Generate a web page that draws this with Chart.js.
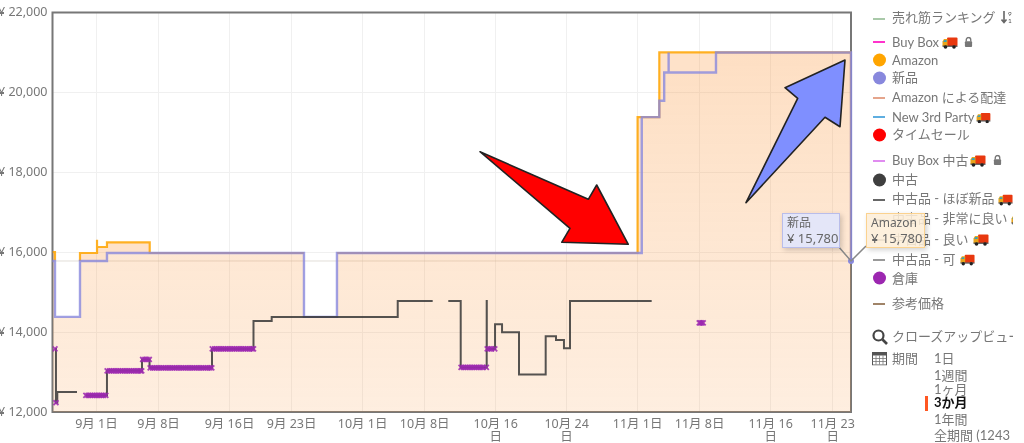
<!DOCTYPE html>
<html lang="ja">
<head>
<meta charset="utf-8">
<title>価格推移</title>
<script src="https://cdn.jsdelivr.net/npm/chart.js@4"></script>
<style>
html, body { margin: 0; padding: 0; background: #fff; overflow: hidden; }
body { width: 1024px; height: 443px; position: relative; font-family: Lato, "Noto Sans CJK JP", sans-serif; font-size: 13px; color: #777; }
canvas { position: absolute; left: 0; top: 0; }
#arrows { position: absolute; left: 0; top: 0; }
#panel { position: absolute; left: 0; top: 0; width: 1013px; height: 443px; overflow: hidden; }
.t { position: absolute; white-space: nowrap; line-height: 16px; transform: translateY(-8px); }
.dash { position: absolute; left: 873px; width: 12px; height: 2px; }
.dot { position: absolute; left: 872.5px; width: 13px; height: 13px; border-radius: 50%; transform: translateY(-6.5px); }
.ic { position: absolute; transform: translateY(-50%); }
.tip { position: absolute; top: 213px; height: 33px; box-sizing: content-box; box-shadow: 2px 2px 5px rgba(0,0,0,.18); color: #666; font-family: "Noto Sans", "Noto Sans CJK JP", sans-serif; }
.tip b { position: absolute; left: 4px; top: 1px; font-weight: normal; font-size: 12px; line-height: 16px; }
.tip i { position: absolute; left: 4px; top: 15px; font-style: normal; font-size: 13px; line-height: 18px; white-space: nowrap; }
</style>
</head>
<body>
<canvas id="chart" width="1024" height="443"></canvas>
<svg width="0" height="0" style="position:absolute">
  <symbol id="truck" viewBox="0 0 16 12">
    <rect x="5" y="0.5" width="10.5" height="8.5" rx="1" fill="#e8380f"/>
    <path d="M0.5 9 V4.5 L2 2 H5.5 V9 Z" fill="#e8a41c"/>
    <path d="M1.2 5 L2.4 3 H4.6 V5 Z" fill="#3aa0b8"/>
    <rect x="0.5" y="8.6" width="15" height="1.2" fill="#444"/>
    <circle cx="3.5" cy="10" r="1.8" fill="#222"/><circle cx="12" cy="10" r="1.8" fill="#222"/>
  </symbol>
  <symbol id="lock" viewBox="0 0 10 12">
    <path d="M2.5 5.5 V3.5 a2.5 2.5 0 0 1 5 0 V5.5" fill="none" stroke="#777" stroke-width="1.5"/>
    <rect x="1" y="5.2" width="8" height="6.3" rx="1" fill="#777"/>
  </symbol>
</svg>
<div id="panel">
  <div class="dash" style="top:18px;background:#a9c9a9"></div><div class="t" style="left:892px;top:17px">売れ筋ランキング</div>
  <svg class="ic" style="left:1001px;top:17px" width="12" height="14" viewBox="0 0 12 14"><path d="M3 1 V12 M0.5 9.5 L3 12.5 L5.5 9.5" fill="none" stroke="#666" stroke-width="1.6"/><text x="7" y="6" font-size="6.5" fill="#555">9</text><text x="7" y="13" font-size="6.5" fill="#555">1</text></svg>

  <div class="dash" style="top:41px;background:#ff33cc"></div><div class="t" style="left:892px;top:42px">Buy Box</div>
  <svg class="ic" style="left:942px;top:43px" width="16" height="12"><use href="#truck"/></svg><svg class="ic" style="left:964px;top:42px" width="9" height="11"><use href="#lock"/></svg>
  <div class="dot" style="top:60px;background:#ffa500"></div><div class="t" style="left:892px;top:60px">Amazon</div>
  <div class="dot" style="top:78px;background:#8888dd"></div><div class="t" style="left:892px;top:77px">新品</div>
  <div class="dash" style="top:97px;background:#e5a58c"></div><div class="t" style="left:892px;top:97px">Amazon による配達</div>
  <div class="dash" style="top:116px;background:#5eaee0"></div><div class="t" style="left:892px;top:117px">New 3rd Party</div>
  <svg class="ic" style="left:976px;top:118px" width="15" height="11"><use href="#truck"/></svg>
  <div class="dot" style="top:135px;background:#ff0000"></div><div class="t" style="left:892px;top:134px">タイムセール</div>

  <div class="dash" style="top:160px;background:#e08cf0"></div><div class="t" style="left:892px;top:160px">Buy Box 中古</div>
  <svg class="ic" style="left:970px;top:161px" width="16" height="12"><use href="#truck"/></svg><svg class="ic" style="left:993px;top:160px" width="9" height="11"><use href="#lock"/></svg>
  <div class="dot" style="top:180px;background:#3f3f3f"></div><div class="t" style="left:892px;top:179px">中古</div>
  <div class="dash" style="top:199px;background:#666"></div><div class="t" style="left:892px;top:198px">中古品 - ほぼ新品</div>
  <svg class="ic" style="left:998px;top:200px" width="15" height="12"><use href="#truck"/></svg>
  <div class="dash" style="top:219px;background:#888"></div><div class="t" style="left:892px;top:218px">中古品 - 非常に良い</div>
  <svg class="ic" style="left:1011px;top:220px" width="15" height="12"><use href="#truck"/></svg>
  <div class="dash" style="top:239px;background:#888"></div><div class="t" style="left:892px;top:239px">中古品 - 良い</div>
  <svg class="ic" style="left:973px;top:240px" width="16" height="12"><use href="#truck"/></svg>
  <div class="dash" style="top:259px;background:#999"></div><div class="t" style="left:892px;top:259px">中古品 - 可</div>
  <svg class="ic" style="left:960px;top:260px" width="15" height="12"><use href="#truck"/></svg>
  <div class="dot" style="top:278px;background:#9c27b0"></div><div class="t" style="left:892px;top:278px">倉庫</div>
  <div class="dash" style="top:303px;background:#a08468"></div><div class="t" style="left:892px;top:303px">参考価格</div>

  <svg class="ic" style="left:872px;top:337px" width="16" height="16" viewBox="0 0 16 16"><circle cx="6.5" cy="6.5" r="5" fill="none" stroke="#444" stroke-width="2.2"/><path d="M10.5 10.5 L15 15" stroke="#444" stroke-width="2.6"/></svg>
  <div class="t" style="left:892px;top:336px">クローズアップビュー</div>
  <svg class="ic" style="left:872px;top:358px" width="15" height="15" viewBox="0 0 15 15"><rect x="0.5" y="2" width="14" height="12.5" fill="none" stroke="#555"/><rect x="0.5" y="2" width="14" height="3" fill="#555"/><path d="M0.5 8 H14.5 M0.5 11 H14.5 M4 5 V14 M7.5 5 V14 M11 5 V14" stroke="#777" stroke-width="0.8"/></svg>
  <div class="t" style="left:892px;top:358px">期間</div>
  <div class="t" style="left:934px;top:358px">1日</div>
  <div class="t" style="left:934px;top:375px">1週間</div>
  <div class="t" style="left:934px;top:389px">1ヶ月</div>
  <div style="position:absolute;left:925px;top:396px;width:3px;height:15px;background:#ff5722"></div>
  <div class="t" style="left:934px;top:402px;color:#111;font-weight:bold">3か月</div>
  <div class="t" style="left:934px;top:419px">1年間</div>
  <div class="t" style="left:934px;top:435px">全期間 (1243 <span style="color:#ff9e6e">|</span></div>
</div>
<svg id="arrows" width="1024" height="443">
  <polygon points="480,151.7 588.3,199.3 596.7,185 628.3,244.3 561.7,242.3 570,228.3" fill="#ff0000" stroke="#222" stroke-width="1.6" stroke-linejoin="round"/>
  <polygon points="746,202.7 797.7,98.3 785,87.7 845,60 840,126.7 825,117.3" fill="#7f8fff" stroke="#222" stroke-width="1.6" stroke-linejoin="round"/>
  <path d="M838 246 L851 261 L866 246" fill="none" stroke="#888" stroke-width="1.5"/>
</svg>
<div class="tip" style="left:782px;width:56px;background:#e4e6f8;border:1px solid #b9bdea"><b>新品</b><i>¥ 15,780</i></div>
<div class="tip" style="left:866px;width:57px;background:rgba(253,238,216,.88);border:1px solid #fbd28f"><b>Amazon</b><i>¥ 15,780</i></div>

<script>
// days are counted from 9月 1日 = 0
var dayMin = -4.96;
var dayMax = 85.06;
var priceTicks = [12000, 14000, 16000, 18000, 20000, 22000];
var tickDays = [0, 7, 15, 22, 30, 37, 45, 53, 61, 68, 76, 83];
var tickLabels = ["9月 1日", "9月 8日", "9月 16日", "9月 23日", "10月 1日", "10月 8日", ["10月 16", "日"], ["10月 24", "日"], "11月 1日", "11月 8日", ["11月 16", "日"], ["11月 23", "日"]];

var newDays   = [-4.96, -4.68, -1.86, 1.18, 23.39, 27.11, 61.47, 63.45, 64.0, 64.5, 64.5, 69.84, 85.06, 85.06];
var newValues = [15780, 14380, 15780, 15980, 14380, 15980, 19380, 19790, 20500, 21000, 20500, 21000, 21000, 15780];

var amazonDays   = [-4.96, -4.68, -4.6, -1.86, -1.86, 0.06, 0.06, 1.18, 6.0, 23.39, 23.4, 27.11, 61.0, 63.45, 85.06, 85.06];
var amazonValues = [16000, 15800, null, 15780, 15980, 16310, 16130, 16245, 15980, 15980, null, 15980, 19380, 21000, 21000, 15780];

var usedDays   = [-4.68, -4.57, -4.42, -2.2, -2.19, -1.24, 1.18, 5.13, 5.98, 13.02, 17.7, 19.75, 33.96, 37.9, 37.95, 39.66, 41.06, 43.99, 44.0, 44.93, 45.72, 47.63, 50.64, 51.8, 52.7, 53.38, 62.59];
var usedValues = [13580, 12232, 12500, 12500, null, 12415, 13030, 13315, 13106, 13580, 14280, 14380, 14780, 14780, null, 14780, 13116, 14780, 13580, 14197, 13998, 12940, 13897, 13805, 13598, 14780, 14780];

// one list of days per warehouse price
var warehouseValues = [13580, 12232, 12415, 13030, 13315, 13106, 13580, 13116, 13580, 14230];
var warehouseDays = [
  [-4.68],
  [-4.57],
  [-1.2, -0.95, -0.7, -0.45, -0.2, 0.05, 0.3, 0.55, 0.8, 1.05],
  [1.2, 1.45, 1.7, 1.95, 2.2, 2.45, 2.7, 2.95, 3.2, 3.45, 3.7, 3.95, 4.2, 4.45, 4.7, 4.95, 5.1],
  [5.2, 5.45, 5.7, 5.95],
  [6.05, 6.3, 6.55, 6.8, 7.05, 7.3, 7.55, 7.8, 8.05, 8.3, 8.55, 8.8, 9.05, 9.3, 9.55, 9.8, 10.05, 10.3, 10.55, 10.8, 11.05, 11.3, 11.55, 11.8, 12.05, 12.3, 12.55, 12.8, 13.0],
  [13.05, 13.3, 13.55, 13.8, 14.05, 14.3, 14.55, 14.8, 15.05, 15.3, 15.55, 15.8, 16.05, 16.3, 16.55, 16.8, 17.05, 17.3, 17.55, 17.7],
  [41.1, 41.35, 41.6, 41.85, 42.1, 42.35, 42.6, 42.85, 43.1, 43.35, 43.6, 43.95],
  [44.05, 44.3, 44.55, 44.9],
  [67.95, 68.1, 68.25, 68.4]
];

var crosshairDays = [-4.96, 85.06];
var crosshairValues = [15780, 15780];

function points(days, values) {
  return days.map(function(d, i) { return { x: d, y: values[i] }; });
}

function warehousePoints() {
  var out = [];
  warehouseDays.forEach(function(list, i) {
    list.forEach(function(d) { out.push({ x: d, y: warehouseValues[i] }); });
  });
  return out;
}

function fillGradient(ctx) {
  var area = ctx.chart.chartArea;
  if (!area) return "rgba(250,150,60,.2)";
  var g = ctx.chart.ctx.createLinearGradient(0, area.top, 0, area.bottom);
  g.addColorStop(0, "rgba(250,150,60,.32)");
  g.addColorStop(1, "rgba(250,150,60,.16)");
  return g;
}

var plotBorder = {
  id: "plotBorder",
  beforeDatasetsDraw: function(chart) {
    var a = chart.chartArea, c = chart.ctx;
    c.save();
    c.strokeStyle = "#777";
    c.lineWidth = 2;
    c.strokeRect(a.left, a.top, a.right - a.left, a.bottom - a.top);
    c.restore();
  }
};

new Chart(document.getElementById("chart"), {
  type: "line",
  plugins: [plotBorder],
  data: {
    datasets: [
      {
        label: "倉庫",
        data: warehousePoints(),
        showLine: false,
        pointStyle: "crossRot",
        pointRadius: 3.5,
        pointBorderWidth: 1.8,
        pointBorderColor: "rgba(156,39,176,.85)"
      },
      {
        label: "中古",
        data: points(usedDays, usedValues),
        stepped: true,
        borderColor: "rgba(55,55,55,.85)",
        borderWidth: 2,
        pointRadius: 0
      },
      {
        label: "新品",
        data: points(newDays, newValues),
        stepped: true,
        borderColor: "rgba(136,136,221,.8)",
        borderWidth: 2.4,
        fill: "origin",
        backgroundColor: fillGradient,
        clip: false,
        pointRadius: function(ctx) { return ctx.dataIndex === newDays.length - 1 ? 3 : 0; },
        pointBackgroundColor: "#8888dd",
        pointBorderWidth: 0
      },
      {
        label: "Amazon",
        data: points(amazonDays, amazonValues),
        stepped: true,
        borderColor: "rgba(255,165,0,.85)",
        borderWidth: 2.2,
        fill: { target: 2, above: "rgba(250,150,60,.28)", below: "rgba(0,0,0,0)" },
        pointRadius: 0
      },
      {
        label: "crosshair",
        data: points(crosshairDays, crosshairValues),
        borderColor: "rgba(200,190,180,.5)",
        borderWidth: 1,
        pointRadius: 0
      }
    ]
  },
  options: {
    responsive: false,
    animation: false,
    events: [],
    layout: { padding: { top: 11.5, right: 173 } },
    plugins: { legend: { display: false }, tooltip: { enabled: false } },
    scales: {
      x: {
        type: "linear",
        min: dayMin,
        max: dayMax,
        afterBuildTicks: function(scale) {
          scale.ticks = tickDays.map(function(d) { return { value: d }; });
        },
        afterFit: function(scale) { scale.height = 31; },
        grid: { color: "#f0f0f0", drawTicks: false },
        border: { display: false },
        ticks: {
          autoSkip: false,
          maxRotation: 0,
          padding: 6,
          color: "#777",
          font: { family: "'Noto Sans', 'Noto Sans CJK JP'", size: 12.5, lineHeight: 1.05 },
          callback: function(value) { return tickLabels[tickDays.indexOf(value)]; }
        }
      },
      y: {
        min: 12000,
        max: 22000,
        afterBuildTicks: function(scale) {
          scale.ticks = priceTicks.map(function(v) { return { value: v }; });
        },
        afterFit: function(scale) { scale.width = 52.5; },
        grid: { color: "#f0f0f0", drawTicks: false },
        border: { display: false },
        ticks: {
          padding: 5,
          color: "#777",
          font: { family: "'Noto Sans', 'Noto Sans CJK JP'", size: 12.5 },
          callback: function(value) { return "¥ " + value.toLocaleString("en-US"); }
        }
      }
    }
  }
});
</script>
</body>
</html>
